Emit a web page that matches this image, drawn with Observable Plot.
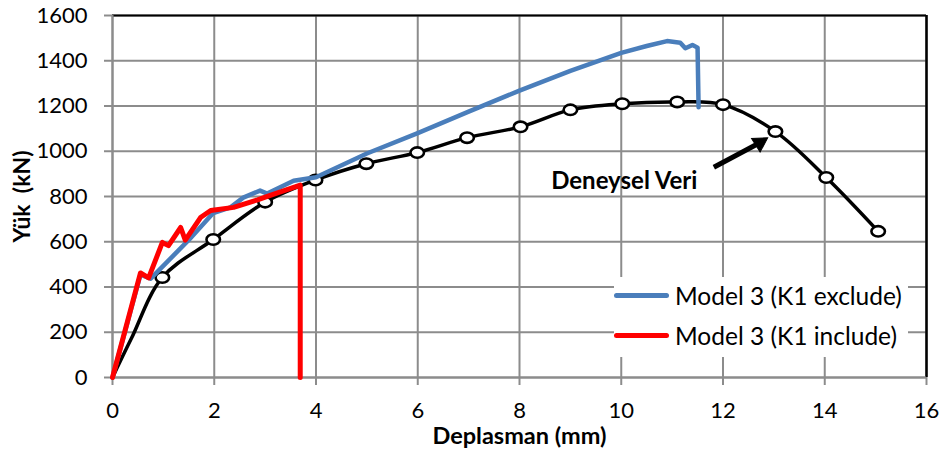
<!DOCTYPE html>
<html>
<head>
<meta charset="utf-8">
<script src="https://cdn.jsdelivr.net/npm/d3@7"></script>
<script src="https://cdn.jsdelivr.net/npm/@observablehq/plot@0.6"></script>
<style>
  html, body { margin: 0; padding: 0; background: #fff; }
  #wrap { position: relative; width: 944px; height: 462px; }
  .legend { position: absolute; left: 614px; top: 277px; width: 294px; height: 80px; background: #fff;
            font-family: Lato, "Open Sans", sans-serif; font-size: 24.5px; color: #000; }
  .legend .item { position: absolute; left: 0; display: flex; align-items: center; height: 30px; }
  .legend .swatch { width: 55px; height: 5px; border-radius: 3px; margin-right: 6px; }
</style>
</head>
<body>
<div id="wrap"></div>
<script>
// ---- data ----
const expX = [0, 0.37, 0.98, 1.98, 3.0, 3.99, 4.99, 5.99, 6.97, 8.02, 9.0, 10.02, 11.1, 12.0, 13.03, 14.03, 15.05];
const expY = [0, 172, 442, 610, 775, 873, 945, 994, 1060, 1108, 1183, 1210, 1218, 1206, 1087, 884, 646];
const expMarker = [false, false, true, true, true, true, true, true, true, true, true, true, true, true, true, true, true];

const exclX = [0, 0.55, 0.75, 1.5, 1.98, 2.32, 2.57, 2.9, 3.04, 3.56, 4.0, 5.0, 6.0, 7.0, 8.0, 9.0, 10.0, 10.5, 10.9, 11.16, 11.26, 11.4, 11.5, 11.52];
const exclY = [0, 455, 437, 608, 727, 752, 795, 826, 813, 870, 885, 990, 1080, 1175, 1268, 1355, 1435, 1465, 1487, 1480, 1455, 1470, 1458, 1195];

const inclX = [0, 0.55, 0.71, 0.98, 1.1, 1.34, 1.43, 1.73, 1.93, 2.38, 2.85, 3.1, 3.69, 3.69];
const inclY = [0, 462, 440, 597, 583, 663, 607, 707, 738, 752, 785, 805, 850, 0];

const xTicks = [0, 2, 4, 6, 8, 10, 12, 14, 16];
const yTicks = [0, 200, 400, 600, 800, 1000, 1200, 1400, 1600];

const seriesNames = ["Model 3 (K1 exclude)", "Model 3 (K1 include)"];
const seriesColors = ["#4A7EBB", "#FF0000"];

const annText = ["Deneysel Veri"];
const annX = [10.06];
const annY = [866];
const arrowX1 = [11.82], arrowY1 = [929], arrowX2 = [12.87], arrowY2 = [1055];

const xLabel = "Deplasman (mm)";
const yLabel = "Yük\u00a0\u00a0(kN)";

// ---- build tables ----
const exp = expX.map((x, i) => ({x, y: expY[i], m: expMarker[i]}));
const excl = exclX.map((x, i) => ({x, y: exclY[i]}));
const incl = inclX.map((x, i) => ({x, y: inclY[i]}));
const headFrac = 0.14;
const arrows = arrowX1.map((x1, i) => {
  const x2 = arrowX2[i], y2 = arrowY2[i], y1 = arrowY1[i];
  return {x1, y1, x2, y2, hx: x2 - headFrac * (x2 - x1), hy: y2 - headFrac * (y2 - y1)};
});
const anns = annText.map((t, i) => ({t, x: annX[i], y: annY[i]}));

// ellipse symbol
const ellipse = {
  draw(ctx, size) {
    const r = Math.sqrt(size / Math.PI);
    const rx = r * 1.3, ry = r, k = 0.5523;
    ctx.moveTo(rx, 0);
    ctx.bezierCurveTo(rx, ry * k, rx * k, ry, 0, ry);
    ctx.bezierCurveTo(-rx * k, ry, -rx, ry * k, -rx, 0);
    ctx.bezierCurveTo(-rx, -ry * k, -rx * k, -ry, 0, -ry);
    ctx.bezierCurveTo(rx * k, -ry, rx, -ry * k, rx, 0);
    ctx.closePath();
  }
};

const grid = "#8c8c8c";

const chart = Plot.plot({
  width: 944,
  height: 462,
  marginLeft: 112,
  marginRight: 18,
  marginTop: 15,
  marginBottom: 85,
  style: {fontFamily: "Lato, 'Open Sans', sans-serif", fontSize: "22px", color: "#000", background: "#fff"},
  x: {domain: [0, 16]},
  y: {domain: [0, 1600]},
  marks: [
    Plot.gridX({ticks: xTicks, stroke: grid, strokeOpacity: 1, strokeWidth: 2}),
    Plot.gridY({ticks: yTicks, stroke: grid, strokeOpacity: 1, strokeWidth: 2}),
    Plot.axisX({ticks: xTicks, tickSize: 8, tickPadding: 17, stroke: grid, strokeWidth: 2, label: null, tickFormat: d => String(d)}),
    Plot.axisY({ticks: yTicks, tickSize: 8, tickPadding: 17, stroke: grid, strokeWidth: 2, label: null, tickFormat: d => String(d)}),
    Plot.ruleY([1600], {stroke: "#000", strokeWidth: 2}),
    Plot.ruleX([16], {stroke: "#000", strokeWidth: 2.5}),
    Plot.ruleX([0], {stroke: grid, strokeWidth: 2}),
    Plot.ruleY([0], {stroke: grid, strokeWidth: 2}),
    Plot.line(exp, {x: "x", y: "y", stroke: "#000", strokeWidth: 3.5, curve: "catmull-rom"}),
    Plot.dot(exp.filter(d => d.m), {x: "x", y: "y", r: 5.2, symbol: ellipse, fill: "#fff", stroke: "#000", strokeWidth: 2.6}),
    Plot.line(excl, {x: "x", y: "y", stroke: seriesColors[0], strokeWidth: 4.5, strokeLinejoin: "round"}),
    Plot.line(incl, {x: "x", y: "y", stroke: seriesColors[1], strokeWidth: 5, strokeLinejoin: "round"}),
    Plot.link(arrows, {x1: "x1", y1: "y1", x2: "hx", y2: "hy", stroke: "#000", strokeWidth: 5}),
    Plot.dot(arrows, {x: "hx", y: "hy", symbol: "triangle", r: 6, fill: "#000", stroke: "#000", strokeWidth: 1, rotate: 58}),
    Plot.text(anns, {x: "x", y: "y", text: "t", fontWeight: "bold", fontSize: 24, textAnchor: "middle", fill: "#000"}),
    Plot.text([xLabel], {text: d => d, frameAnchor: "bottom", dy: 66, textAnchor: "middle", fontWeight: "bold", fontSize: 23.5, fill: "#000"}),
    Plot.text([yLabel], {text: d => d, frameAnchor: "left", dx: -90, dy: 0, rotate: -90, textAnchor: "middle", fontWeight: "bold", fontSize: 23, fill: "#000"})
  ]
});

const wrap = document.getElementById("wrap");
wrap.appendChild(chart);

// legend
const leg = document.createElement("div");
leg.className = "legend";
seriesNames.forEach((name, i) => {
  const item = document.createElement("div");
  item.className = "item";
  item.style.top = (i === 0 ? 3 : 43) + "px";
  const sw = document.createElement("div");
  sw.className = "swatch";
  sw.style.background = seriesColors[i];
  const tx = document.createElement("span");
  tx.textContent = name;
  item.appendChild(sw);
  item.appendChild(tx);
  leg.appendChild(item);
});
wrap.appendChild(leg);
</script>
</body>
</html>
